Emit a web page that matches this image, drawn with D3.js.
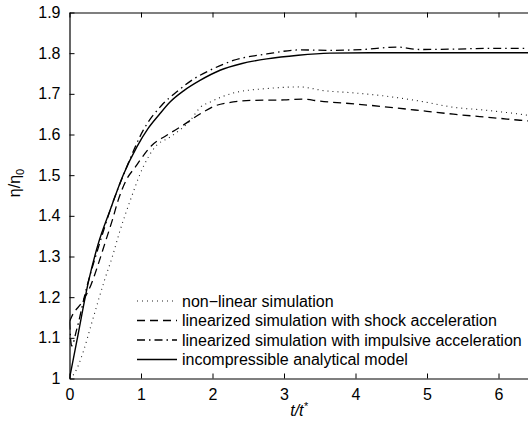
<!DOCTYPE html>
<html>
<head>
<meta charset="utf-8">
<script src="https://cdn.jsdelivr.net/npm/d3@7"></script>
<style>
  body { margin: 0; background: #fff; }
  svg { display: block; font-family: "Liberation Sans", Arial, Helvetica, sans-serif; }
  .tick-label { font-size: 16px; fill: #000; }
  .legend-text { font-size: 16px; fill: #000; }
</style>
</head>
<body>
<svg id="chart" width="528" height="425"></svg>
<script>
  // t/t* and eta/eta0
  const nonLinearT = [0, 0.07, 0.2, 0.3, 0.4, 0.49, 0.6, 0.7, 0.85, 1.03, 1.2, 1.41, 1.69, 1.83, 1.97, 2.29, 2.76, 3.22, 3.55, 4.0, 4.44, 4.9, 5.37, 5.8, 6.3, 6.5];
  const nonLinearV = [1.0, 1.013, 1.07, 1.13, 1.19, 1.242, 1.30, 1.36, 1.438, 1.52, 1.57, 1.594, 1.635, 1.667, 1.68, 1.702, 1.713, 1.717, 1.708, 1.702, 1.694, 1.682, 1.667, 1.66, 1.65, 1.645];

  const shockT = [0, 0.03, 0.18, 0.3, 0.4, 0.5, 0.6, 0.68, 0.8, 0.92, 1.0, 1.15, 1.36, 1.59, 1.83, 2.03, 2.29, 2.57, 3.0, 3.27, 3.5, 4.0, 4.53, 5.0, 5.37, 6.0, 6.3, 6.5];
  const shockV = [1.14, 1.152, 1.189, 1.23, 1.28, 1.335, 1.39, 1.438, 1.49, 1.52, 1.54, 1.573, 1.598, 1.623, 1.651, 1.670, 1.680, 1.684, 1.685, 1.687, 1.682, 1.675, 1.666, 1.657, 1.65, 1.64, 1.635, 1.632];

  const impulsiveT = [0, 0.03, 0.1, 0.23, 0.4, 0.6, 0.8, 1.03, 1.29, 1.5, 1.75, 1.965, 2.29, 2.76, 3.22, 3.64, 4.1, 4.58, 4.9, 5.4, 5.9, 6.39, 6.5];
  const impulsiveV = [1.14, 1.08, 1.12, 1.217, 1.32, 1.43, 1.52, 1.61, 1.672, 1.705, 1.738, 1.758, 1.782, 1.798, 1.808, 1.807, 1.809, 1.815, 1.809, 1.81, 1.812, 1.812, 1.81];

  const analyticT = [0, 0.1, 0.27, 0.4, 0.566, 0.75, 0.94, 1.1, 1.25, 1.406, 1.6, 1.825, 2.105, 2.4, 2.76, 3.2, 3.64, 4.2, 5.0, 6.0, 6.5];
  const analyticV = [1.0, 1.09, 1.242, 1.33, 1.413, 1.50, 1.569, 1.615, 1.648, 1.68, 1.708, 1.733, 1.758, 1.774, 1.786, 1.795, 1.80, 1.801, 1.801, 1.801, 1.801];

  const xTicks = [0, 1, 2, 3, 4, 5, 6];
  const yTicks = [1, 1.1, 1.2, 1.3, 1.4, 1.5, 1.6, 1.7, 1.8, 1.9];
  const yTickLabels = ['1', '1.1', '1.2', '1.3', '1.4', '1.5', '1.6', '1.7', '1.8', '1.9'];

  const seriesNames = [
    'non\u2212linear simulation',
    'linearized simulation with shock acceleration',
    'linearized simulation with impulsive acceleration',
    'incompressible analytical model'
  ];

  const svg = d3.select('#chart');
  const plotLeft = 69.5, plotTop = 12.5, plotBottom = 378.5;
  const x = d3.scaleLinear().domain([0, 6.5]).range([plotLeft, plotLeft + 6.5 * 71.5]);
  const y = d3.scaleLinear().domain([1, 1.9]).range([plotBottom, plotTop]);

  svg.append('defs').append('clipPath').attr('id', 'plot-clip')
    .append('rect')
    .attr('x', plotLeft).attr('y', plotTop)
    .attr('width', x(6.5) - plotLeft).attr('height', plotBottom - plotTop);

  const zip = (ts, vs) => ts.map((t, i) => [t, vs[i]]);
  const series = [
    { data: zip(nonLinearT, nonLinearV), dash: '1,4', width: 1.1, color: '#222' },
    { data: zip(shockT, shockV), dash: '8,5', width: 1.3, color: '#000' },
    { data: zip(impulsiveT, impulsiveV), dash: '8,4,1.5,4', width: 1.3, color: '#000' },
    { data: zip(analyticT, analyticV), dash: null, width: 1.4, color: '#000' }
  ];

  const line = d3.line()
    .x(d => x(d[0]))
    .y(d => y(d[1]))
    .curve(d3.curveMonotoneX);

  const plot = svg.append('g').attr('clip-path', 'url(#plot-clip)');
  series.forEach(s => {
    plot.append('path')
      .datum(s.data)
      .attr('d', line)
      .attr('fill', 'none')
      .attr('stroke', s.color)
      .attr('stroke-width', s.width)
      .attr('stroke-dasharray', s.dash);
  });

  // axes: ticks point inward, as in the reference
  const axisColor = '#000';
  svg.append('g')
    .attr('transform', `translate(0,${plotBottom})`)
    .call(d3.axisBottom(x).tickValues(xTicks).tickSizeInner(-5).tickSizeOuter(0).tickPadding(10).tickFormat(d3.format('d')))
    .call(g => g.select('.domain').attr('stroke', axisColor).attr('stroke-width', 1.2))
    .call(g => g.selectAll('text').attr('class', 'tick-label').attr('font-size', null).attr('font-family', null));

  svg.append('g')
    .attr('transform', `translate(0,${plotTop})`)
    .call(d3.axisTop(x).tickValues(xTicks).tickSizeInner(-5).tickSizeOuter(0).tickFormat(''))
    .call(g => g.select('.domain').attr('stroke', axisColor).attr('stroke-width', 1.2));

  svg.append('g')
    .attr('transform', `translate(${plotLeft},0)`)
    .call(d3.axisLeft(y).tickValues(yTicks).tickSizeInner(-5).tickSizeOuter(0).tickPadding(9)
      .tickFormat((d, i) => yTickLabels[i]))
    .call(g => g.select('.domain').attr('stroke', axisColor).attr('stroke-width', 1.2))
    .call(g => g.selectAll('text').attr('class', 'tick-label').attr('font-size', null).attr('font-family', null));

  svg.selectAll('.tick line').attr('stroke', axisColor);

  // axis titles
  svg.append('text')
    .attr('x', 299).attr('y', 416)
    .attr('text-anchor', 'middle')
    .attr('font-size', 16)
    .attr('font-style', 'italic')
    .html('t/t<tspan dy="-6" font-size="11">*</tspan>');

  svg.append('text')
    .attr('transform', 'translate(20,183) rotate(-90)')
    .attr('text-anchor', 'middle')
    .attr('font-size', 16)
    .html('\u03b7/\u03b7<tspan dy="4" font-size="11">0</tspan>');

  // legend
  const legend = svg.append('g');
  seriesNames.forEach((name, i) => {
    const ly = 301 + i * 19.5;
    const s = series[i];
    legend.append('line')
      .attr('x1', 137).attr('x2', 177)
      .attr('y1', ly).attr('y2', ly)
      .attr('stroke', s.color)
      .attr('stroke-width', s.width)
      .attr('stroke-dasharray', s.dash);
    legend.append('text')
      .attr('class', 'legend-text')
      .attr('x', 182).attr('y', ly)
      .attr('dy', '0.35em')
      .text(name);
  });
</script>
</body>
</html>
